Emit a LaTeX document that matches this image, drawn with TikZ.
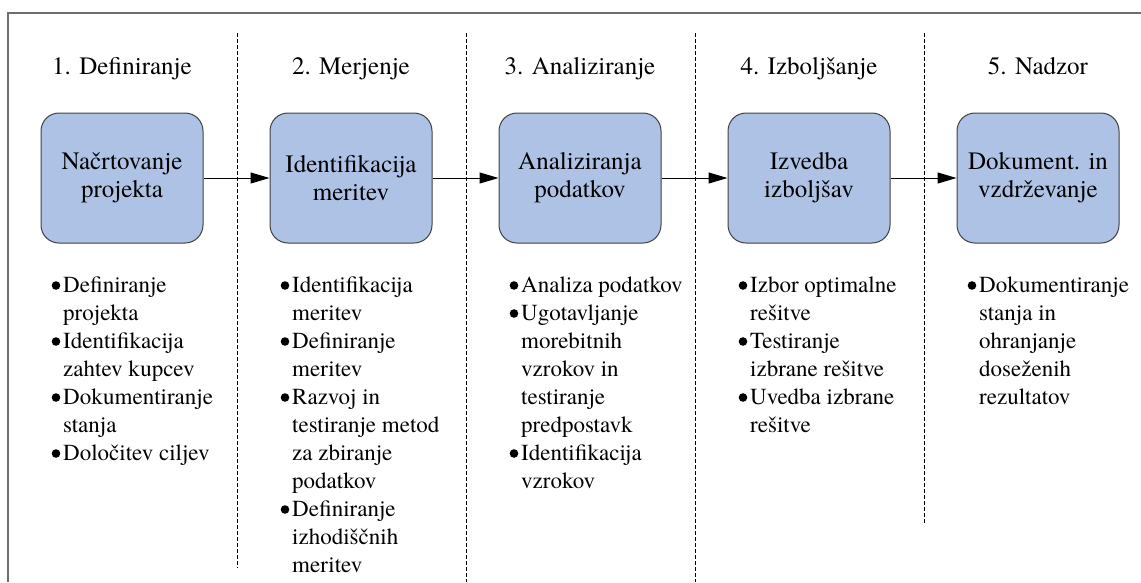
\documentclass[tikz,border=0pt]{standalone}
\usepackage{fontspec}
\IfFontExistsTF{texgyretermes-regular.otf}
  {\setmainfont{texgyretermes}[Extension=.otf,UprightFont=*-regular,
     BoldFont=*-bold,ItalicFont=*-italic,BoldItalicFont=*-bolditalic]}
  {\setmainfont{Liberation Serif}}
\usetikzlibrary{arrows.meta}
\definecolor{boxfill}{HTML}{ADC2E4}
\definecolor{boxline}{HTML}{404040}
\definecolor{framegray}{HTML}{6E6E6E}
\begin{document}
\begin{tikzpicture}[x=1pt,y=-1pt,
  phasebox/.style={draw=boxline,fill=boxfill,line width=1pt,rounded corners=18pt,
    minimum width=162pt,minimum height=130pt,align=center,inner sep=0pt,
    font=\rmfamily\fontsize{25}{28}\selectfont},
  header/.style={anchor=base,inner sep=0pt,font=\rmfamily\fontsize{25}{30}\selectfont},
  tasklist/.style={anchor=base west,inner sep=0pt,font=\rmfamily\fontsize{23}{28}\selectfont},
  separator/.style={line width=0.8pt,dash pattern=on 4pt off 2pt},
  flow/.style={line width=1pt,-{Triangle[length=19pt,width=11pt]}},
  frameline/.style={draw=framegray,line width=1.3pt},
  dot/.style={fill=black}]
\useasboundingbox (0,0) rectangle (1141,582);

% outer frame (top and left edges)
\draw[frameline] (8,582) -- (8,13) -- (1141,13);

% column separators
\draw[separator] (237,33) -- (237,568);
\draw[separator] (466,33) -- (466,582);
\draw[separator] (695,33) -- (695,582);
\draw[separator] (924,33) -- (924,523);

% phase headings
\node[header] (h1) at (122,74) {1. Definiranje};
\node[header] (h2) at (351,74) {2. Merjenje};
\node[header] (h3) at (580,74) {3. Analiziranje};
\node[header] (h4) at (809,74) {4. Izboljšanje};
\node[header] (h5) at (1038,74) {5. Nadzor};

% phase boxes
\node[phasebox] (b1) at (122,178) {Načrtovanje\\projekta};
\node[phasebox] (b2) at (351,178) {Identifikacija\\meritev};
\node[phasebox] (b3) at (580,178) {Analiziranja\\podatkov};
\node[phasebox] (b4) at (809,178) {Izvedba\\izboljšav};
\node[phasebox] (b5) at (1038,178) {Dokument. in\\vzdrževanje};

\draw[flow] (b1) -- (b2);
\draw[flow] (b2) -- (b3);
\draw[flow] (b3) -- (b4);
\draw[flow] (b4) -- (b5);

% task lists (text)
\node[tasklist] (l1) at (63,292) {\begin{tabular}[t]{@{}l@{}}
Definiranje\\ projekta\\ Identifikacija\\ zahtev kupcev\\
Dokumentiranje\\ stanja\\ Določitev ciljev
\end{tabular}};
\node[tasklist] (l2) at (292,292) {\begin{tabular}[t]{@{}l@{}}
Identifikacija\\ meritev\\ Definiranje\\ meritev\\
Razvoj in\\ testiranje metod\\ za zbiranje\\ podatkov\\
Definiranje\\ izhodiščnih\\ meritev
\end{tabular}};
\node[tasklist] (l3) at (521,292) {\begin{tabular}[t]{@{}l@{}}
Analiza podatkov\\ Ugotavljanje\\ morebitnih\\ vzrokov in\\ testiranje\\ predpostavk\\
Identifikacija\\ vzrokov
\end{tabular}};
\node[tasklist] (l4) at (750,292) {\begin{tabular}[t]{@{}l@{}}
Izbor optimalne\\ rešitve\\ Testiranje\\ izbrane rešitve\\
Uvedba izbrane\\ rešitve
\end{tabular}};
\node[tasklist] (l5) at (979,292) {\begin{tabular}[t]{@{}l@{}}
Dokumentiranje\\ stanja in\\ ohranjanje\\ doseženih\\ rezultatov
\end{tabular}};

% bullets in front of each item
\foreach \r in {0,2,4,6} \fill[dot] (56,285.5+28*\r) circle[radius=4.3pt];
\foreach \r in {0,2,4,8} \fill[dot] (285,285.5+28*\r) circle[radius=4.3pt];
\foreach \r in {0,1,6} \fill[dot] (514,285.5+28*\r) circle[radius=4.3pt];
\foreach \r in {0,2,4} \fill[dot] (743,285.5+28*\r) circle[radius=4.3pt];
\foreach \r in {0} \fill[dot] (972,285.5+28*\r) circle[radius=4.3pt];
\end{tikzpicture}
\end{document}
